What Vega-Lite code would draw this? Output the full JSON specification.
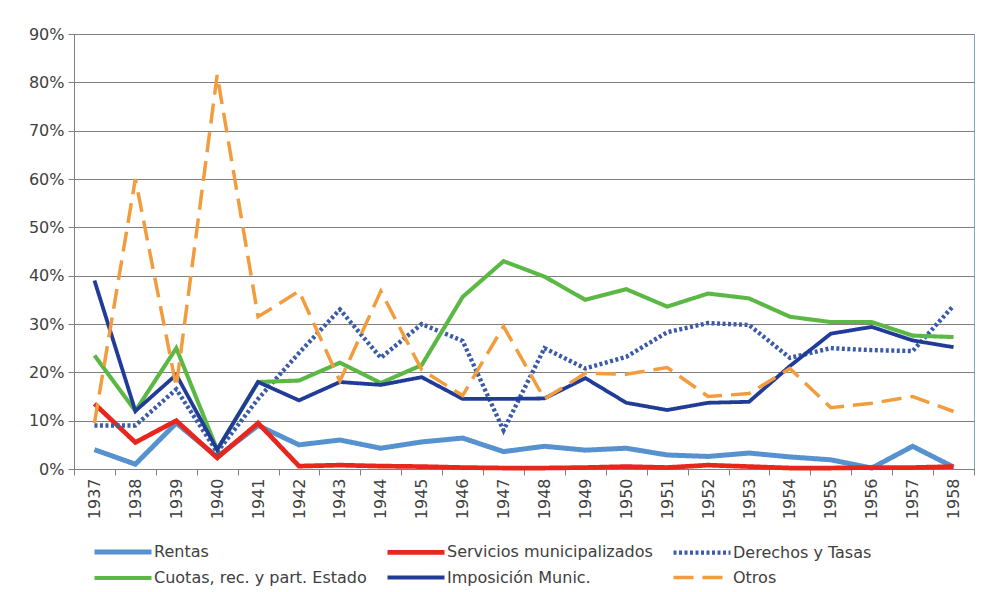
{
  "$schema": "https://vega.github.io/schema/vega-lite/v6.json",
  "autosize": "none",
  "width": 900,
  "height": 435,
  "padding": {"left": 74, "top": 34, "right": 7, "bottom": 123},
  "background": "white",
  "config": {
    "view": {"stroke": "#7fa9b8", "strokeWidth": 1},
    "font": "DejaVu Sans",
    "axis": {"labelFont": "DejaVu Sans", "labelFontSize": 16, "labelColor": "#404040", "domainColor": "#808080", "tickColor": "#808080"}
  },
  "data": {"values": [
    {"year":"1937","serie":"Rentas","v":4},{"year":"1937","serie":"Servicios municipalizados","v":13.5},{"year":"1937","serie":"Derechos y Tasas","v":9},{"year":"1937","serie":"Cuotas, rec. y part. Estado","v":23.5},{"year":"1937","serie":"Imposición Munic.","v":39},{"year":"1937","serie":"Otros","v":9.5},
    {"year":"1938","serie":"Rentas","v":1},{"year":"1938","serie":"Servicios municipalizados","v":5.5},{"year":"1938","serie":"Derechos y Tasas","v":9},{"year":"1938","serie":"Cuotas, rec. y part. Estado","v":12},{"year":"1938","serie":"Imposición Munic.","v":12},{"year":"1938","serie":"Otros","v":60},
    {"year":"1939","serie":"Rentas","v":9.5},{"year":"1939","serie":"Servicios municipalizados","v":10},{"year":"1939","serie":"Derechos y Tasas","v":16.5},{"year":"1939","serie":"Cuotas, rec. y part. Estado","v":25},{"year":"1939","serie":"Imposición Munic.","v":19.5},{"year":"1939","serie":"Otros","v":17},
    {"year":"1940","serie":"Rentas","v":2.5},{"year":"1940","serie":"Servicios municipalizados","v":2.3},{"year":"1940","serie":"Derechos y Tasas","v":3.5},{"year":"1940","serie":"Cuotas, rec. y part. Estado","v":4},{"year":"1940","serie":"Imposición Munic.","v":4},{"year":"1940","serie":"Otros","v":81.5},
    {"year":"1941","serie":"Rentas","v":9},{"year":"1941","serie":"Servicios municipalizados","v":9.5},{"year":"1941","serie":"Derechos y Tasas","v":14.5},{"year":"1941","serie":"Cuotas, rec. y part. Estado","v":18},{"year":"1941","serie":"Imposición Munic.","v":18},{"year":"1941","serie":"Otros","v":31.5},
    {"year":"1942","serie":"Rentas","v":5},{"year":"1942","serie":"Servicios municipalizados","v":0.6},{"year":"1942","serie":"Derechos y Tasas","v":24},{"year":"1942","serie":"Cuotas, rec. y part. Estado","v":18.3},{"year":"1942","serie":"Imposición Munic.","v":14.2},{"year":"1942","serie":"Otros","v":36.8},
    {"year":"1943","serie":"Rentas","v":6},{"year":"1943","serie":"Servicios municipalizados","v":0.8},{"year":"1943","serie":"Derechos y Tasas","v":33},{"year":"1943","serie":"Cuotas, rec. y part. Estado","v":22},{"year":"1943","serie":"Imposición Munic.","v":18},{"year":"1943","serie":"Otros","v":18.2},
    {"year":"1944","serie":"Rentas","v":4.3},{"year":"1944","serie":"Servicios municipalizados","v":0.6},{"year":"1944","serie":"Derechos y Tasas","v":23},{"year":"1944","serie":"Cuotas, rec. y part. Estado","v":17.8},{"year":"1944","serie":"Imposición Munic.","v":17.4},{"year":"1944","serie":"Otros","v":36.8},
    {"year":"1945","serie":"Rentas","v":5.6},{"year":"1945","serie":"Servicios municipalizados","v":0.5},{"year":"1945","serie":"Derechos y Tasas","v":30},{"year":"1945","serie":"Cuotas, rec. y part. Estado","v":21.5},{"year":"1945","serie":"Imposición Munic.","v":19},{"year":"1945","serie":"Otros","v":20.5},
    {"year":"1946","serie":"Rentas","v":6.4},{"year":"1946","serie":"Servicios municipalizados","v":0.3},{"year":"1946","serie":"Derechos y Tasas","v":26.5},{"year":"1946","serie":"Cuotas, rec. y part. Estado","v":35.6},{"year":"1946","serie":"Imposición Munic.","v":14.5},{"year":"1946","serie":"Otros","v":15.2},
    {"year":"1947","serie":"Rentas","v":3.6},{"year":"1947","serie":"Servicios municipalizados","v":0.2},{"year":"1947","serie":"Derechos y Tasas","v":8},{"year":"1947","serie":"Cuotas, rec. y part. Estado","v":43},{"year":"1947","serie":"Imposición Munic.","v":14.5},{"year":"1947","serie":"Otros","v":29.5},
    {"year":"1948","serie":"Rentas","v":4.7},{"year":"1948","serie":"Servicios municipalizados","v":0.2},{"year":"1948","serie":"Derechos y Tasas","v":25},{"year":"1948","serie":"Cuotas, rec. y part. Estado","v":39.8},{"year":"1948","serie":"Imposición Munic.","v":14.6},{"year":"1948","serie":"Otros","v":14.5},
    {"year":"1949","serie":"Rentas","v":3.9},{"year":"1949","serie":"Servicios municipalizados","v":0.3},{"year":"1949","serie":"Derechos y Tasas","v":20.8},{"year":"1949","serie":"Cuotas, rec. y part. Estado","v":35},{"year":"1949","serie":"Imposición Munic.","v":18.8},{"year":"1949","serie":"Otros","v":19.8},
    {"year":"1950","serie":"Rentas","v":4.3},{"year":"1950","serie":"Servicios municipalizados","v":0.5},{"year":"1950","serie":"Derechos y Tasas","v":23.2},{"year":"1950","serie":"Cuotas, rec. y part. Estado","v":37.2},{"year":"1950","serie":"Imposición Munic.","v":13.7},{"year":"1950","serie":"Otros","v":19.6},
    {"year":"1951","serie":"Rentas","v":2.9},{"year":"1951","serie":"Servicios municipalizados","v":0.3},{"year":"1951","serie":"Derechos y Tasas","v":28.3},{"year":"1951","serie":"Cuotas, rec. y part. Estado","v":33.6},{"year":"1951","serie":"Imposición Munic.","v":12.2},{"year":"1951","serie":"Otros","v":21},
    {"year":"1952","serie":"Rentas","v":2.6},{"year":"1952","serie":"Servicios municipalizados","v":0.8},{"year":"1952","serie":"Derechos y Tasas","v":30.2},{"year":"1952","serie":"Cuotas, rec. y part. Estado","v":36.3},{"year":"1952","serie":"Imposición Munic.","v":13.7},{"year":"1952","serie":"Otros","v":15},
    {"year":"1953","serie":"Rentas","v":3.3},{"year":"1953","serie":"Servicios municipalizados","v":0.5},{"year":"1953","serie":"Derechos y Tasas","v":29.8},{"year":"1953","serie":"Cuotas, rec. y part. Estado","v":35.3},{"year":"1953","serie":"Imposición Munic.","v":13.9},{"year":"1953","serie":"Otros","v":15.6},
    {"year":"1954","serie":"Rentas","v":2.5},{"year":"1954","serie":"Servicios municipalizados","v":0.2},{"year":"1954","serie":"Derechos y Tasas","v":23},{"year":"1954","serie":"Cuotas, rec. y part. Estado","v":31.5},{"year":"1954","serie":"Imposición Munic.","v":21.3},{"year":"1954","serie":"Otros","v":20.8},
    {"year":"1955","serie":"Rentas","v":1.9},{"year":"1955","serie":"Servicios municipalizados","v":0.2},{"year":"1955","serie":"Derechos y Tasas","v":25},{"year":"1955","serie":"Cuotas, rec. y part. Estado","v":30.4},{"year":"1955","serie":"Imposición Munic.","v":28},{"year":"1955","serie":"Otros","v":12.7},
    {"year":"1956","serie":"Rentas","v":0.2},{"year":"1956","serie":"Servicios municipalizados","v":0.3},{"year":"1956","serie":"Derechos y Tasas","v":24.6},{"year":"1956","serie":"Cuotas, rec. y part. Estado","v":30.4},{"year":"1956","serie":"Imposición Munic.","v":29.4},{"year":"1956","serie":"Otros","v":13.6},
    {"year":"1957","serie":"Rentas","v":4.7},{"year":"1957","serie":"Servicios municipalizados","v":0.3},{"year":"1957","serie":"Derechos y Tasas","v":24.4},{"year":"1957","serie":"Cuotas, rec. y part. Estado","v":27.6},{"year":"1957","serie":"Imposición Munic.","v":26.6},{"year":"1957","serie":"Otros","v":15},
    {"year":"1958","serie":"Rentas","v":0.4},{"year":"1958","serie":"Servicios municipalizados","v":0.5},{"year":"1958","serie":"Derechos y Tasas","v":33.8},{"year":"1958","serie":"Cuotas, rec. y part. Estado","v":27.3},{"year":"1958","serie":"Imposición Munic.","v":25.2},{"year":"1958","serie":"Otros","v":11.9}
  ]},
  "mark": {"type": "line", "strokeCap": "butt", "strokeJoin": "miter"},
  "encoding": {
    "x": {
      "field": "year", "type": "ordinal",
      "scale": {"type": "band", "paddingInner": 0, "paddingOuter": 0},
      "bandPosition": 0.5,
      "axis": {"title": null, "labelAngle": -90, "tickBand": "extent", "tickSize": 6, "labelPadding": 3, "grid": false}
    },
    "y": {
      "field": "v", "type": "quantitative",
      "scale": {"domain": [0, 90], "nice": false},
      "axis": {"title": null, "values": [0,10,20,30,40,50,60,70,80,90], "labelExpr": "datum.value + '%'", "grid": true, "gridColor": "#7f7f7f", "gridOpacity": 1, "tickSize": 6, "labelPadding": 4}
    },
    "color": {
      "field": "serie", "type": "nominal",
      "scale": {
        "domain": ["Rentas","Servicios municipalizados","Derechos y Tasas","Cuotas, rec. y part. Estado","Imposición Munic.","Otros"],
        "range": ["#5592cf","#e8261c","#3b5aa8","#5cb845","#203c98","#f29c3e"]
      },
      "legend": {
        "title": null, "orient": "none", "legendX": 37, "legendY": 506, "direction": "horizontal", "columns": 3,
        "symbolType": "M-3,0H3", "symbolSize": 361, "symbolStrokeWidth": 3, "labelOffset": 19,
        "labelFont": "DejaVu Sans", "labelFontSize": 16, "labelColor": "#404040", "columnPadding": 11, "rowPadding": 4, "labelLimit": 400
      }
    },
    "strokeDash": {
      "field": "serie", "type": "nominal",
      "scale": {
        "domain": ["Rentas","Servicios municipalizados","Derechos y Tasas","Cuotas, rec. y part. Estado","Imposición Munic.","Otros"],
        "range": [[1,0],[1,0],[3,2.5],[1,0],[1,0],[20,9]]
      },
      "legend": null
    },
    "strokeWidth": {
      "field": "serie", "type": "nominal",
      "scale": {
        "domain": ["Rentas","Servicios municipalizados","Derechos y Tasas","Cuotas, rec. y part. Estado","Imposición Munic.","Otros"],
        "range": [5, 3.5, 2, 4.5, 4.5, 4.5]
      },
      "legend": null
    }
  }
}
